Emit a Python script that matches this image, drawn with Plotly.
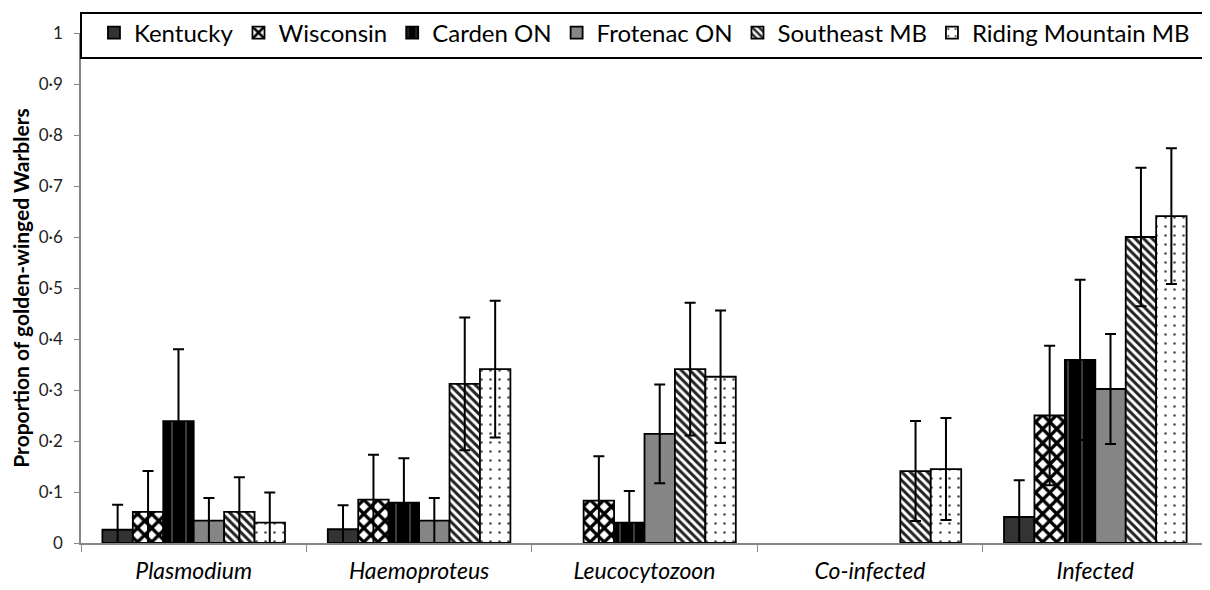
import plotly.graph_objects as go

categories = ["Plasmodium", "Haemoproteus", "Leucocytozoon", "Co-infected", "Infected"]
series_names = ["Kentucky", "Wisconsin", "Carden ON", "Frotenac ON", "Southeast MB", "Riding Mountain MB"]

kentucky = [0.026, 0.027, None, None, 0.051]
kentucky_err = [0.049, 0.047, None, None, 0.072]
wisconsin = [0.061, 0.085, 0.083, None, 0.250]
wisconsin_err = [0.080, 0.088, 0.087, None, 0.137]
carden = [0.239, 0.079, 0.040, None, 0.359]
carden_err = [0.141, 0.087, 0.062, None, 0.157]
frotenac = [0.044, 0.044, 0.214, None, 0.302]
frotenac_err = [0.044, 0.044, 0.097, None, 0.108]
southeast = [0.061, 0.312, 0.341, 0.141, 0.600]
southeast_err = [0.068, 0.130, 0.130, 0.098, 0.136]
riding = [0.040, 0.341, 0.326, 0.145, 0.641]
riding_err = [0.059, 0.134, 0.130, 0.100, 0.133]

y_tickvals = [0, 0.1, 0.2, 0.3, 0.4, 0.5, 0.6, 0.7, 0.8, 0.9, 1]
y_ticktext = ["0", "0·1", "0·2", "0·3", "0·4", "0·5", "0·6", "0·7", "0·8", "0·9", "1"]

values = [kentucky, wisconsin, carden, frotenac, southeast, riding]
errors = [kentucky_err, wisconsin_err, carden_err, frotenac_err, southeast_err, riding_err]

styles = [
    dict(color="#333333", pattern=dict(shape="")),
    dict(color="white", pattern=dict(shape="x", fgcolor="black", bgcolor="white", size=10, solidity=0.55, fillmode="replace")),
    dict(color="black", pattern=dict(shape="|", fgcolor="#555555", bgcolor="black", size=14, solidity=0.1, fillmode="replace")),
    dict(color="#858585", pattern=dict(shape="")),
    dict(color="white", pattern=dict(shape="\\", fgcolor="#222222", bgcolor="white", size=6, solidity=0.5, fillmode="replace")),
    dict(color="white", pattern=dict(shape=".", fgcolor="#555555", bgcolor="white", size=9, solidity=0.07, fillmode="replace")),
]

fig = go.Figure()
for name, v, e, st in zip(series_names, values, errors, styles):
    fig.add_trace(go.Bar(
        x=categories, y=v, name=name,
        marker=dict(color=st["color"], pattern=st["pattern"], line=dict(color="black", width=1.8)),
        error_y=dict(type="data", array=e, visible=True, color="black", thickness=2, width=5.5),
    ))

fig.update_layout(
    width=1202, height=582,
    margin=dict(l=73, r=2, t=23, b=47),
    paper_bgcolor="white", plot_bgcolor="white",
    barmode="group", bargap=0.19, bargroupgap=0,
    font=dict(family="Lato, Open Sans, sans-serif", color="black"),
    showlegend=True,
    legend=dict(orientation="h", x=0.0115, xanchor="left", y=1.0, yanchor="middle",
                font=dict(size=24, color="black"), bgcolor="rgba(0,0,0,0)",
                itemclick=False, traceorder="normal"),
    shapes=[dict(type="rect", xref="paper", yref="paper", x0=0, x1=0.997,
                 y0=(543 - 56) / 512, y1=(543 - 11) / 512,
                 line=dict(color="black", width=2), fillcolor="white", layer="above")],
)

fig.update_xaxes(
    showline=True, linecolor="#868686", linewidth=1.5,
    ticks="outside", ticklen=7, tickcolor="#868686", tickson="boundaries",
    ticklabelstandoff=7,
    tickfont=dict(size=23, color="black", family="Lato, Open Sans, sans-serif", style="italic"),
    showgrid=False,
)
fig.update_yaxes(
    range=[0, 1], tickvals=y_tickvals, ticktext=y_ticktext,
    showline=True, linecolor="#868686", linewidth=1.5,
    ticks="outside", ticklen=5, tickcolor="#868686", ticklabelstandoff=8,
    tickfont=dict(size=17, color="#222222"),
    showgrid=False, zeroline=False,
    title=dict(text="<b>Proportion of golden-winged Warblers</b>", font=dict(size=21, color="black"), standoff=13),
)

fig.write_html("out.html")
